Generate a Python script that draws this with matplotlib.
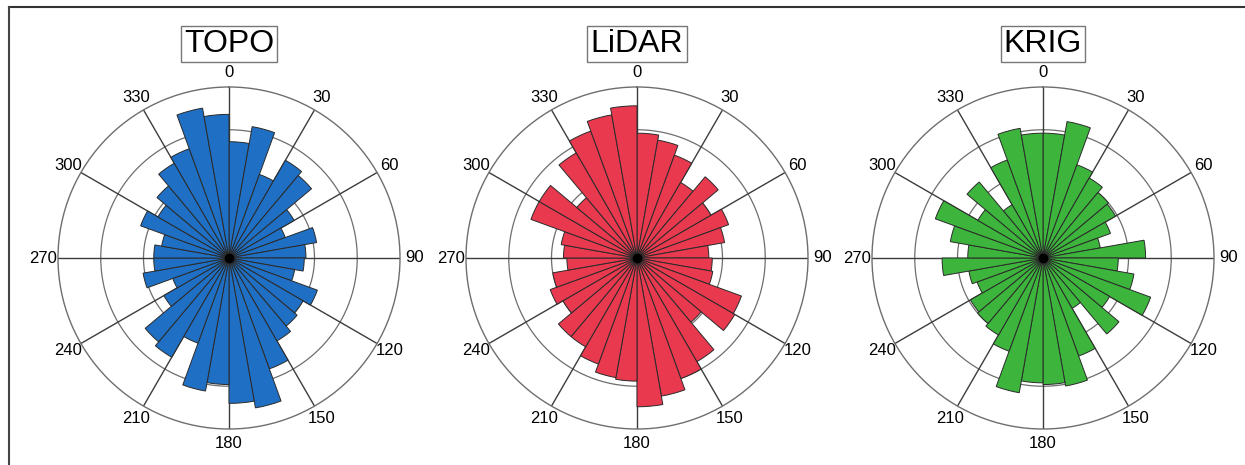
import numpy as np
import matplotlib.pyplot as plt
from matplotlib.lines import Line2D

plt.rcParams['font.family'] = ['Liberation Sans', 'DejaVu Sans']

# 36 direction bins of 10 degrees, clockwise from north (0-10, 10-20, ...)
bin_start = np.arange(0, 360, 10)
angle_ticks = np.arange(0, 360, 30)

# bar lengths in percent of the outer ring
topo = [68, 78, 52, 66, 63, 44, 35, 52, 45, 44, 39, 55, 50, 52, 56, 69, 89, 85,
        74, 79, 53, 67, 64, 44, 35, 51, 44, 44, 40, 55, 48, 55, 64, 68, 89, 84]
lidar = [73, 70, 64, 51, 62, 50, 57, 52, 42, 44, 45, 65, 66, 49, 70, 75, 82, 87,
         72, 71, 66, 60, 60, 50, 54, 50, 41, 43, 45, 66, 66, 46, 71, 79, 85, 89]
krig = [73, 81, 58, 54, 50, 49, 42, 34, 60, 44, 54, 67, 45, 58, 34, 61, 76, 74,
        73, 80, 58, 52, 50, 49, 41, 44, 59, 44, 55, 67, 44, 58, 36, 61, 77, 73]

titles = ['TOPO', 'LiDAR', 'KRIG']
colors = ['#1f70c4', '#e8394f', '#3db53d']
series = [topo, lidar, krig]
centers_x = [229, 637, 1043]

W, H = 1245, 465
fig = plt.figure(figsize=(W / 100, H / 100), dpi=100)

R = 171  # outer radius in px
cy = 258
for i in range(3):
    cx = centers_x[i]
    ax = fig.add_axes([(cx - R) / W, (H - cy - R) / H, 2 * R / W, 2 * R / H],
                      projection='polar')
    ax.set_theta_zero_location('N')
    ax.set_theta_direction(-1)
    ax.bar(np.deg2rad(bin_start), series[i], width=np.deg2rad(10), align='edge',
           color=colors[i], edgecolor='#2a2a2a', linewidth=0.7, zorder=3)
    ax.plot(0, 0, 'o', color='black', markersize=6, zorder=5)
    ax.set_ylim(0, 100)
    ax.set_yticks([25, 50, 75])
    ax.set_yticklabels([])
    ax.set_xticks(np.deg2rad(angle_ticks))
    ax.set_xticklabels([str(a) for a in angle_ticks], fontsize=12)
    ax.tick_params(axis='x', pad=0)
    ax.grid(False)
    # rings and spokes drawn by hand so their colours differ
    t = np.linspace(0, 2 * np.pi, 400)
    for rr in [25, 50, 75]:
        ax.plot(t, np.full_like(t, rr), color='#6e6e6e', lw=0.9, zorder=1)
    for a in angle_ticks:
        ax.plot([np.deg2rad(a)] * 2, [0, 100], color='#3c3c3c', lw=1.0, zorder=1)
    ax.spines['polar'].set_color('#6e6e6e')
    ax.spines['polar'].set_linewidth(1.0)
    fig.text(cx / W, 1 - 44 / H, titles[i], ha='center', va='center', fontsize=23,
             bbox=dict(boxstyle='square,pad=0.1', fc='white', ec='#777777', lw=1))

# frame lines at top and left
fig.add_artist(Line2D([8.5 / W, 1], [1 - 7 / H, 1 - 7 / H], color='#333333', lw=1.5))
fig.add_artist(Line2D([8.5 / W, 8.5 / W], [0, 1 - 7 / H], color='#444444', lw=1.5))

fig.savefig('out.png', dpi=100, facecolor='white')
